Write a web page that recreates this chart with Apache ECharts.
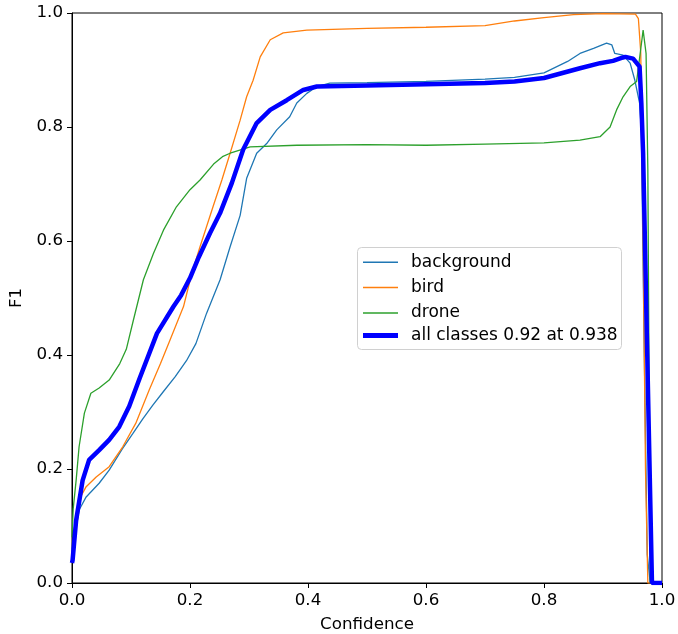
<!DOCTYPE html>
<html>
<head>
<meta charset="utf-8">
<script src="https://cdn.jsdelivr.net/npm/echarts@6/dist/echarts.min.js"></script>
<style>
html,body{margin:0;padding:0;background:#fff;}
#chart{width:678px;height:634px;}
</style>
</head>
<body>
<div id="chart"></div>
<script>
// Confidence (x) and F1 (y) readings per class
const bgConf = [0, 0.002, 0.012, 0.024, 0.046, 0.063, 0.085, 0.103, 0.12, 0.137, 0.155, 0.175, 0.194, 0.21, 0.228, 0.251, 0.268, 0.285, 0.296, 0.313, 0.33, 0.347, 0.369, 0.381, 0.398, 0.415, 0.437, 0.5, 0.6, 0.7, 0.75, 0.8, 0.84, 0.861, 0.884, 0.906, 0.915, 0.92, 0.934, 0.946, 0.954, 0.962, 0.965, 0.97, 0.975, 0.98, 1.0];
const bgF1   = [0.06, 0.064, 0.128, 0.151, 0.175, 0.198, 0.235, 0.262, 0.288, 0.312, 0.336, 0.362, 0.39, 0.42, 0.473, 0.532, 0.59, 0.645, 0.71, 0.754, 0.771, 0.795, 0.818, 0.842, 0.859, 0.871, 0.877, 0.878, 0.88, 0.884, 0.887, 0.895, 0.915, 0.929, 0.938, 0.947, 0.944, 0.929, 0.926, 0.912, 0.882, 0.842, 0.795, 0.4, 0.05, 0, 0];

const birdConf = [0, 0.003, 0.012, 0.024, 0.041, 0.063, 0.086, 0.108, 0.131, 0.15, 0.166, 0.189, 0.203, 0.217, 0.228, 0.239, 0.254, 0.268, 0.285, 0.296, 0.307, 0.319, 0.336, 0.358, 0.398, 0.5, 0.6, 0.7, 0.75, 0.8, 0.85, 0.9, 0.955, 0.96, 0.964, 0.968, 0.972, 0.976, 1.0];
const birdF1   = [0.035, 0.09, 0.146, 0.169, 0.186, 0.204, 0.239, 0.28, 0.339, 0.385, 0.426, 0.485, 0.543, 0.59, 0.625, 0.66, 0.707, 0.754, 0.812, 0.853, 0.882, 0.923, 0.953, 0.965, 0.97, 0.973, 0.975, 0.978, 0.986, 0.992, 0.997, 0.999, 0.998, 0.99, 0.93, 0.6, 0.2, 0, 0];

const droneConf = [0, 0.002, 0.007, 0.012, 0.021, 0.032, 0.046, 0.063, 0.081, 0.092, 0.104, 0.121, 0.138, 0.155, 0.177, 0.2, 0.217, 0.24, 0.255, 0.268, 0.302, 0.381, 0.5, 0.6, 0.7, 0.8, 0.861, 0.895, 0.912, 0.923, 0.934, 0.946, 0.957, 0.963, 0.968, 0.973, 0.976, 0.98, 1.0];
const droneF1   = [0.08, 0.13, 0.18, 0.239, 0.298, 0.333, 0.342, 0.356, 0.385, 0.41, 0.461, 0.532, 0.578, 0.619, 0.66, 0.69, 0.707, 0.735, 0.748, 0.754, 0.765, 0.768, 0.769, 0.768, 0.77, 0.772, 0.777, 0.783, 0.8, 0.83, 0.853, 0.871, 0.88, 0.929, 0.97, 0.929, 0.725, 0, 0];

const allConf = [0, 0.001, 0.007, 0.018, 0.029, 0.046, 0.063, 0.08, 0.097, 0.115, 0.144, 0.172, 0.185, 0.2, 0.215, 0.234, 0.251, 0.271, 0.29, 0.313, 0.336, 0.364, 0.392, 0.415, 0.5, 0.6, 0.7, 0.75, 0.8, 0.861, 0.895, 0.917, 0.934, 0.938, 0.951, 0.962, 0.965, 0.968, 0.975, 0.983, 1.0];
const allF1   = [0.035, 0.04, 0.11, 0.18, 0.216, 0.233, 0.251, 0.274, 0.31, 0.36, 0.438, 0.485, 0.505, 0.535, 0.572, 0.614, 0.649, 0.702, 0.76, 0.807, 0.83, 0.847, 0.865, 0.871, 0.873, 0.875, 0.877, 0.88, 0.886, 0.903, 0.912, 0.916, 0.922, 0.923, 0.92, 0.906, 0.842, 0.754, 0.4, 0, 0];

const seriesNames = ['background', 'bird', 'drone', 'all classes 0.92 at 0.938'];
const tickValues = [0, 0.2, 0.4, 0.6, 0.8, 1.0];

function pairs(xs, ys) { return xs.map((x, i) => [x, ys[i]]); }

const font = 'DejaVu Sans';
const fs = 16.7;
const chart = echarts.init(document.getElementById('chart'), null, {renderer: 'canvas'});

function lineSeries(name, xs, ys, color, width, z) {
  return {
    name: name, type: 'line', data: pairs(xs, ys),
    showSymbol: false, symbol: 'none', smooth: false, z: z,
    lineStyle: {color: color, width: width},
    itemStyle: {color: color},
    emphasis: {disabled: true}, animation: false
  };
}

const legendCommon = {
  show: true, orient: 'vertical', left: 363,
  padding: 0, itemGap: 8.4, itemWidth: 35,
  icon: 'rect',
  textStyle: {fontFamily: font, fontSize: 17, color: '#000', padding: [0, 0, 0, 8], lineHeight: 16},
  selectedMode: false, z: 10
};

chart.setOption({
  animation: false,
  grid: {left: 72, right: 16, top: 13, bottom: 51, show: true, borderColor: '#000', borderWidth: 1, backgroundColor: 'transparent', containLabel: false, outerBoundsMode: 'none'},
  xAxis: {
    type: 'value', min: 0, max: 1, interval: 0.2,
    name: 'Confidence', nameLocation: 'middle', nameGap: 33,
    nameTextStyle: {fontFamily: font, fontSize: fs, color: '#000'},
    axisLine: {show: true, onZero: false, lineStyle: {color: '#000', width: 1}},
    axisTick: {show: true, length: 5, lineStyle: {color: '#000'}},
    axisLabel: {fontFamily: font, fontSize: fs, color: '#000', margin: 9, formatter: v => v.toFixed(1)},
    splitLine: {show: false}
  },
  yAxis: {
    type: 'value', min: 0, max: 1, interval: 0.2,
    name: 'F1', nameLocation: 'middle', nameGap: 45, nameRotate: 90,
    nameTextStyle: {fontFamily: font, fontSize: fs, color: '#000'},
    axisLine: {show: true, onZero: false, lineStyle: {color: '#000', width: 1}},
    axisTick: {show: true, length: 5, lineStyle: {color: '#000'}},
    axisLabel: {fontFamily: font, fontSize: fs, color: '#000', margin: 9, formatter: v => v.toFixed(1)},
    splitLine: {show: false}
  },
  graphic: [{
    type: 'rect', left: 357, top: 247, z: 9,
    shape: {width: 264, height: 102, r: 4},
    style: {fill: 'rgba(255,255,255,0.8)', stroke: '#d0d0d0', lineWidth: 1}
  }],
  legend: [
    Object.assign({}, legendCommon, {top: 253.7, itemHeight: 1.5, data: seriesNames.slice(0, 3)}),
    Object.assign({}, legendCommon, {top: 327, itemHeight: 5, data: seriesNames.slice(3)})
  ],
  series: [
    lineSeries(seriesNames[0], bgConf, bgF1, '#1f77b4', 1.3, 2),
    lineSeries(seriesNames[1], birdConf, birdF1, '#ff7f0e', 1.3, 2),
    lineSeries(seriesNames[2], droneConf, droneF1, '#2ca02c', 1.3, 2),
    lineSeries(seriesNames[3], allConf, allF1, '#0000ff', 4.5, 3)
  ]
});
</script>
</body>
</html>
